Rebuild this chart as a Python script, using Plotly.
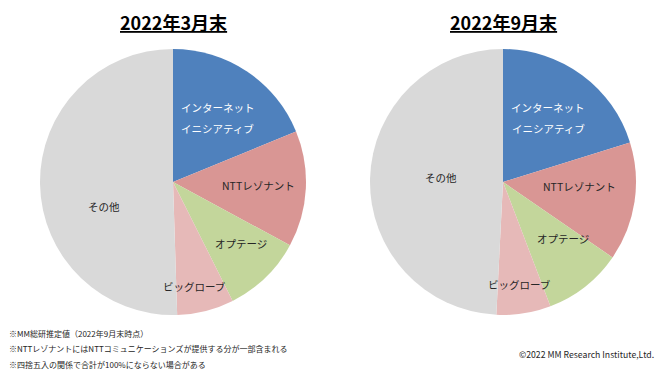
import math
import plotly.graph_objects as go

categories = ["インターネット<br>イニシアティブ", "NTTレゾナント", "オプテージ", "ビッグローブ", "その他"]
titles = ["2022年3月末", "2022年9月末"]
values_mar = [18.8, 14.1, 9.7, 6.9, 50.5]
values_sep = [20.2, 14.4, 9.6, 6.6, 49.2]
notes = ["※MM総研推定値（2022年9月末時点）",
         "※NTTレゾナントにはNTTコミュニケーションズが提供する分が一部含まれる",
         "※四捨五入の関係で合計が100%にならない場合がある"]
copyright_text = "©2022 MM Research Institute,Ltd."

colors = ["#4F81BD", "#D99694", "#C3D69B", "#E6B9B8", "#D9D9D9"]
text_colors = ["#FFFFFF", "#262626", "#262626", "#262626", "#262626"]

W, H = 665, 377
R = 133
centers = [(173, 182), (503, 182)]
# label placement style: (angle offset deg, radius fraction)
label_style = [
    [(1, 0.59), (-1, 0.64), (-4, 0.69), (2.5, 0.80), (-19, 0.55)],
    [(-1, 0.59), (-5, 0.58), (-9, 0.62), (0, 0.78), (3, 0.47)],
]
LINE_GAP = 21
FONT = "Noto Sans CJK JP"

fig = go.Figure()
annotations = []
for i, vals in enumerate([values_mar, values_sep]):
    cx, cy = centers[i]
    fig.add_trace(go.Pie(
        labels=categories, values=vals, sort=False, direction="clockwise",
        rotation=0, marker=dict(colors=colors, line=dict(width=0)),
        textinfo="none", hoverinfo="label+value", showlegend=False,
        domain=dict(x=[(cx - R) / W, (cx + R) / W],
                    y=[(H - cy - R) / H, (H - cy + R) / H]),
    ))
    total = sum(vals)
    cum = 0
    for j, v in enumerate(vals):
        mid = (cum + v / 2) / total * 360
        cum += v
        off, rf = label_style[i][j]
        a = math.radians(mid + off)
        px = cx + rf * R * math.sin(a)
        py = cy - rf * R * math.cos(a)
        lines = categories[j].split("<br>")
        n = len(lines)
        for k, line in enumerate(lines):
            ly = py + (k - (n - 1) / 2) * LINE_GAP
            annotations.append(dict(
                x=px / W, y=1 - ly / H, xref="paper", yref="paper",
                xanchor="center", yanchor="middle",
                text=line, showarrow=False, align="center",
                font=dict(family=FONT, size=10.5, color=text_colors[j]),
            ))
    annotations.append(dict(
        x=cx / W, y=1 - 22 / H, xref="paper", yref="paper",
        xanchor="center", yanchor="middle",
        text="<b><u>" + titles[i] + "</u></b>", showarrow=False,
        font=dict(family=FONT, size=18, color="#000000"),
    ))

for k, n in enumerate(notes):
    annotations.append(dict(
        x=7 / W, y=1 - (333 + 15.5 * k) / H, xref="paper", yref="paper",
        text=n, showarrow=False, xanchor="left", yanchor="middle",
        font=dict(family=FONT, size=8, color="#262626"),
    ))
annotations.append(dict(
    x=656 / W, y=1 - 354 / H, xref="paper", yref="paper",
    text=copyright_text, showarrow=False, xanchor="right", yanchor="middle",
    font=dict(family=FONT, size=8.7, color="#262626"),
))

fig.update_layout(
    width=W, height=H, margin=dict(l=0, r=0, t=0, b=0),
    paper_bgcolor="#FFFFFF", plot_bgcolor="#FFFFFF",
    annotations=annotations,
)
fig.write_html("out.html", config={"displayModeBar": False},
               post_script="document.body.style.margin='0';")
